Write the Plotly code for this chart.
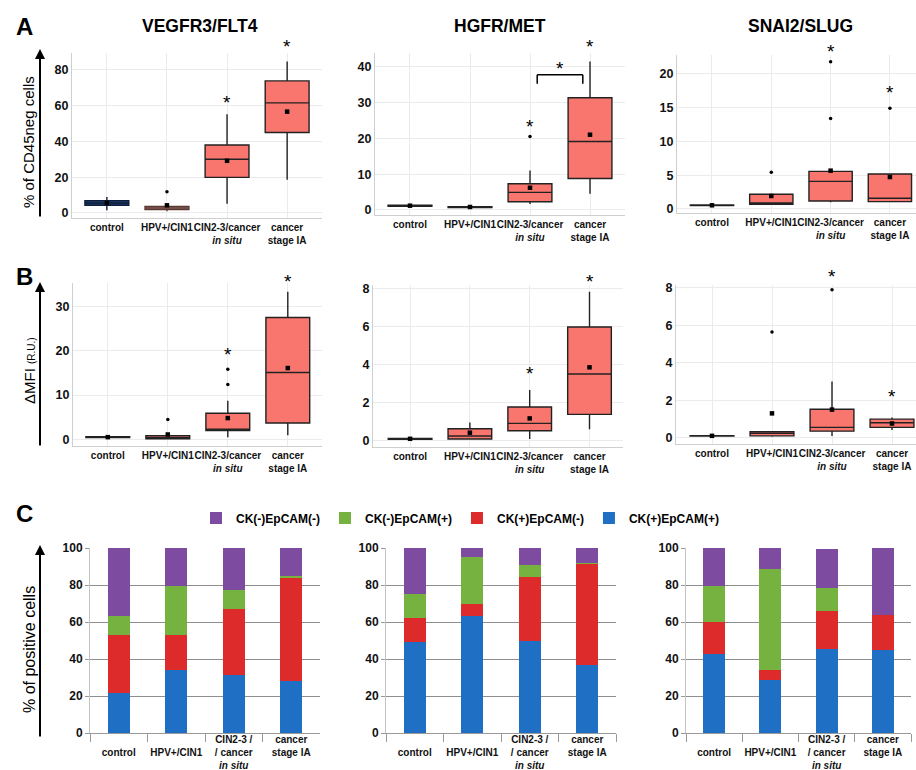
import plotly.graph_objects as go

W, H = 916, 770

# ---------------- categories / labels ----------------
cats_ab = ["control", "HPV+/CIN1", "CIN2-3/cancer<br><i>in situ</i>", "cancer<br>stage IA"]
cats_c = ["<br>control", "<br>HPV+/CIN1", "CIN2-3 /<br>/ cancer<br><i>in situ</i>", "cancer<br>stage IA"]
titles = ["VEGFR3/FLT4", "HGFR/MET", "SNAI2/SLUG"]
legend_names = ["CK(+)EpCAM(+)", "CK(+)EpCAM(-)", "CK(-)EpCAM(+)", "CK(-)EpCAM(-)"]

# ---------------- A: % of CD45neg cells ----------------
# VEGFR3/FLT4
a1_low = [1.5, 1.0, 5.2, 18.6]
a1_q1 = [4.3, 1.9, 19.9, 45.0]
a1_med = [5.6, 2.8, 30.1, 61.6]
a1_q3 = [6.9, 3.7, 38.0, 73.9]
a1_up = [8.9, 4.0, 55.3, 84.7]
a1_mean = [5.6, 4.3, 29.2, 56.7]
a1_out_cat = [1]
a1_out_val = [11.9]
a1_star_cat = [2, 3]
a1_star_val = [63.6, 94.9]

# HGFR/MET
a2_low = [1.0, 0.65, 1.7, 4.5]
a2_q1 = [1.05, 0.7, 2.3, 8.8]
a2_med = [1.2, 0.84, 4.9, 19.1]
a2_q3 = [1.35, 0.95, 7.3, 31.3]
a2_up = [1.4, 1.0, 11.0, 41.4]
a2_mean = [1.2, 0.84, 6.2, 21.0]
a2_out_cat = [2]
a2_out_val = [20.5]
a2_star_cat = [2, 3]
a2_star_val = [24.0, 46.5]
a2_bracket_cat = [2.12, 2.88]
a2_bracket_val = [35.2, 37.7]
a2_bracket_star = 40.2

# SNAI2/SLUG
a3_low = [0.45, 0.6, 1.0, 1.0]
a3_q1 = [0.5, 0.69, 1.18, 1.08]
a3_med = [0.54, 0.89, 4.09, 1.58]
a3_q3 = [0.6, 2.17, 5.57, 5.18]
a3_up = [0.65, 2.2, 5.6, 5.2]
a3_mean = [0.54, 1.92, 5.67, 4.73]
a3_out_cat = [1, 2, 2, 3]
a3_out_val = [5.42, 13.4, 21.8, 14.9]
a3_star_cat = [2, 3]
a3_star_val = [23.8, 17.65]

# ---------------- B: delta MFI (R.U.) ----------------
b1_low = [0.3, 0.05, 0.5, 0.9]
b1_q1 = [0.4, 0.1, 2.0, 3.7]
b1_med = [0.5, 0.4, 2.3, 15.1]
b1_q3 = [0.6, 0.8, 5.9, 27.5]
b1_up = [0.7, 1.0, 8.7, 33.3]
b1_mean = [0.5, 1.1, 4.8, 16.1]
b1_out_cat = [1, 2, 2]
b1_out_val = [4.5, 12.4, 15.8]
b1_star_cat = [2, 3]
b1_star_val = [19.8, 36.3]

b2_low = [0.06, 0.05, 0.09, 0.6]
b2_q1 = [0.08, 0.09, 0.52, 1.38]
b2_med = [0.1, 0.25, 0.91, 3.5]
b2_q3 = [0.12, 0.63, 1.77, 5.97]
b2_up = [0.14, 0.96, 2.66, 7.82]
b2_mean = [0.1, 0.42, 1.17, 3.85]
b2_out_cat = []
b2_out_val = []
b2_star_cat = [2, 3]
b2_star_val = [3.67, 8.52]

b3_low = [0.08, 0.05, 0.09, 0.41]
b3_q1 = [0.09, 0.1, 0.35, 0.55]
b3_med = [0.1, 0.23, 0.55, 0.8]
b3_q3 = [0.11, 0.32, 1.52, 0.99]
b3_up = [0.12, 0.35, 3.0, 1.08]
b3_mean = [0.1, 1.3, 1.5, 0.76]
b3_out_cat = [1, 2]
b3_out_val = [5.64, 7.9]
b3_star_cat = [2, 3]
b3_star_val = [8.74, 2.36]

# ---------------- C: % of positive cells (stacked) ----------------
c1_pp = [21.6, 34.2, 31.2, 27.9]
c1_pm = [31.6, 18.8, 36.0, 55.9]
c1_mp = [9.8, 26.3, 10.3, 1.2]
c1_mm = [37.0, 20.7, 22.5, 15.0]

c2_pp = [49.0, 63.0, 50.0, 36.6]
c2_pm = [13.0, 7.0, 34.1, 54.9]
c2_mp = [13.3, 25.0, 6.9, 0.3]
c2_mm = [24.7, 5.0, 9.0, 8.2]

c3_pp = [42.9, 28.5, 45.6, 44.7]
c3_pm = [17.1, 5.4, 20.2, 19.1]
c3_mp = [19.3, 54.9, 12.6, 0.2]
c3_mm = [20.7, 11.2, 21.1, 36.0]

# ---------------- styling / geometry ----------------
FN = "Liberation Sans, Arial, sans-serif"
FR = "Liberation Sans, Arial, sans-serif"
BOX_FILL = "#F8766D"
BOX_LINE = "#222222"
box_fill_over = {(0, 0): ("#1E3C6E", "#0E1E3A"), (0, 1): ("#C48A82", "#5B3A35")}
bar_colors = ["#1F6FC5", "#DD2B2B", "#76B23F", "#7D4CA0"]
STAR_SHIFT = -3


def dx(a, b):
    return [a / W, b / W]


def dy(top, bottom):
    return [1 - bottom / H, 1 - top / H]


def ax_name(kind, i):
    return kind if i == 1 else f"{kind}{i}"


box_panels = [
    dict(low=a1_low, q1=a1_q1, med=a1_med, q3=a1_q3, up=a1_up, mean=a1_mean,
         oc=a1_out_cat, ov=a1_out_val, sc=a1_star_cat, sv=a1_star_val),
    dict(low=a2_low, q1=a2_q1, med=a2_med, q3=a2_q3, up=a2_up, mean=a2_mean,
         oc=a2_out_cat, ov=a2_out_val, sc=a2_star_cat, sv=a2_star_val),
    dict(low=a3_low, q1=a3_q1, med=a3_med, q3=a3_q3, up=a3_up, mean=a3_mean,
         oc=a3_out_cat, ov=a3_out_val, sc=a3_star_cat, sv=a3_star_val),
    dict(low=b1_low, q1=b1_q1, med=b1_med, q3=b1_q3, up=b1_up, mean=b1_mean,
         oc=b1_out_cat, ov=b1_out_val, sc=b1_star_cat, sv=b1_star_val),
    dict(low=b2_low, q1=b2_q1, med=b2_med, q3=b2_q3, up=b2_up, mean=b2_mean,
         oc=b2_out_cat, ov=b2_out_val, sc=b2_star_cat, sv=b2_star_val),
    dict(low=b3_low, q1=b3_q1, med=b3_med, q3=b3_q3, up=b3_up, mean=b3_mean,
         oc=b3_out_cat, ov=b3_out_val, sc=b3_star_cat, sv=b3_star_val),
]

geom_ab = [
    dict(x=(72, 322), y=(53, 218), xr=(-0.58, 3.58), yr=(-2.8, 89.5), dt=20),
    dict(x=(375, 625), y=(53, 215), xr=(-0.583, 3.583), yr=(-1.4, 43.8), dt=10),
    dict(x=(677, 916), y=(55, 213), xr=(-0.59, 3.44), yr=(-0.6, 22.8), dt=5),
    dict(x=(73, 322), y=(283, 446), xr=(-0.58, 3.57), yr=(-1.5, 35.3), dt=10),
    dict(x=(373, 623), y=(285, 447), xr=(-0.62, 3.56), yr=(-0.33, 8.17), dt=2),
    dict(x=(676, 916), y=(285, 444), xr=(-0.6, 3.4), yr=(-0.335, 8.15), dt=2),
]
geom_c = [
    dict(x=(90, 320), y=(548, 733)),
    dict(x=(386, 616), y=(548, 733)),
    dict(x=(686, 911), y=(548, 733)),
]

fig = go.Figure()
annotations = []
shapes = []
layout_axes = {}


def star(xref, yref, yrange, c, v):
    # star placed via the axis' own domain reference so it stays visible above the range
    r0, r1 = yrange
    return dict(x=c, y=(v - r0) / (r1 - r0), xref=xref, yref=f"{yref} domain", text="*",
                showarrow=False, font=dict(family=FR, size=19, color="black"),
                yanchor="middle", yshift=STAR_SHIFT)


for p, (pan, g) in enumerate(zip(box_panels, geom_ab)):
    i = p + 1
    xr, yr = ax_name("x", i), ax_name("y", i)
    for k in range(4):
        fill, lc = box_fill_over.get((p, k), (BOX_FILL, BOX_LINE))
        fig.add_trace(go.Box(
            x=[cats_ab[k]], q1=[pan["q1"][k]], median=[pan["med"][k]], q3=[pan["q3"][k]],
            lowerfence=[pan["low"][k]], upperfence=[pan["up"][k]],
            fillcolor=fill, line=dict(color=lc, width=1.4), whiskerwidth=0,
            width=0.73, boxpoints=False, xaxis=xr, yaxis=yr,
            showlegend=False, hoverinfo="skip"))
    fig.add_trace(go.Scatter(
        x=cats_ab, y=pan["mean"], mode="markers",
        marker=dict(symbol="square", size=4.5, color="black"),
        xaxis=xr, yaxis=yr, showlegend=False, hoverinfo="skip"))
    if pan["oc"]:
        fig.add_trace(go.Scatter(
            x=[cats_ab[c] for c in pan["oc"]], y=pan["ov"], mode="markers",
            marker=dict(symbol="circle", size=3.5, color="black"),
            xaxis=xr, yaxis=yr, showlegend=False, hoverinfo="skip"))
    for c, v in zip(pan["sc"], pan["sv"]):
        annotations.append(star(xr, yr, g["yr"], c, v))
    layout_axes[ax_name("xaxis", i)] = dict(
        domain=dx(*g["x"]), range=list(g["xr"]), anchor=yr, type="category",
        categoryorder="array", categoryarray=cats_ab, tickangle=0, automargin=False,
        showgrid=True, gridcolor="#EBEBEB", gridwidth=1,
        showline=True, linecolor="#CFCFCF", linewidth=1, ticks="",
        tickfont=dict(family=FN, size=10, weight="bold", color="#111"))
    layout_axes[ax_name("yaxis", i)] = dict(
        domain=dy(*g["y"]), range=list(g["yr"]), anchor=xr, dtick=g["dt"], tick0=0,
        automargin=False,
        showgrid=True, gridcolor="#EBEBEB", gridwidth=1, zeroline=False,
        showline=True, linecolor="#CFCFCF", linewidth=1, ticks="",
        tickfont=dict(family=FN, size=12.5, weight="bold", color="#111"))

# bracket in HGFR/MET panel
bx0, bx1 = a2_bracket_cat
by0, by1 = a2_bracket_val
for (xa, ya, xb, yb) in [(bx0, by0, bx0, by1), (bx0, by1, bx1, by1), (bx1, by1, bx1, by0)]:
    shapes.append(dict(type="line", xref="x2", yref="y2", x0=xa, y0=ya, x1=xb, y1=yb,
                       line=dict(color="black", width=1.5)))
annotations.append(star("x2", "y2", geom_ab[1]["yr"], (bx0 + bx1) / 2, a2_bracket_star))

# stacked bars
c_panels = [(c1_pp, c1_pm, c1_mp, c1_mm), (c2_pp, c2_pm, c2_mp, c2_mm), (c3_pp, c3_pm, c3_mp, c3_mm)]
for j, (series, g) in enumerate(zip(c_panels, geom_c)):
    i = 7 + j
    xr, yr = ax_name("x", i), ax_name("y", i)
    for vals, name, col in zip(series, legend_names, bar_colors):
        fig.add_trace(go.Bar(
            x=cats_c, y=vals, name=name, marker=dict(color=col, line=dict(width=0)),
            width=0.39, xaxis=xr, yaxis=yr, showlegend=(j == 0), hoverinfo="skip"))
    layout_axes[ax_name("xaxis", i)] = dict(
        domain=dx(*g["x"]), range=[-0.5, 3.5], anchor=yr, type="category",
        categoryorder="array", categoryarray=cats_c, tickangle=0, automargin=False,
        tickson="boundaries", ticks="outside", ticklen=8, tickcolor="#9A9A9A",
        ticklabelstandoff=-3,
        showgrid=False, showline=True, linecolor="#9A9A9A", linewidth=1,
        tickfont=dict(family=FN, size=10, weight="bold", color="#111"))
    layout_axes[ax_name("yaxis", i)] = dict(
        domain=dy(*g["y"]), range=[0, 100], anchor=xr, dtick=20, tick0=0,
        automargin=False,
        showgrid=True, gridcolor="#8E8E8E", gridwidth=1, zeroline=False,
        showline=True, linecolor="#C4C4C4", ticks="outside", ticklen=4, tickcolor="#9A9A9A",
        tickfont=dict(family=FN, size=12, weight="bold", color="#111"))

# titles
for t, cx in zip(titles, [200, 500, 800]):
    annotations.append(dict(x=cx / W, y=1 - 26 / H, xref="paper", yref="paper", text=t,
                            showarrow=False, xanchor="center", yanchor="middle",
                            font=dict(family=FN, size=17.5, weight="bold", color="black")))
# panel letters
for t, cy in zip(["A", "B", "C"], [26, 276, 513]):
    annotations.append(dict(x=24 / W, y=1 - cy / H, xref="paper", yref="paper", text=t,
                            showarrow=False, xanchor="center", yanchor="middle",
                            font=dict(family=FR, size=24, weight="bold", color="black")))
# y titles
for t, cy in zip(["% of CD45neg cells", "ΔMFI <span style='font-size:10px'>(R.U.)</span>",
                  "% of positive cells"], [142, 370, 650]):
    annotations.append(dict(x=29 / W, y=1 - cy / H, xref="paper", yref="paper", text=t,
                            textangle=-90, showarrow=False, xanchor="center", yanchor="middle",
                            font=dict(family=FR, size=16 if "positive" in t else 15, color="black")))
# axis arrows
for top, bot in [(49, 218), (282, 447), (545, 738)]:
    annotations.append(dict(x=40 / W, y=1 - top / H, xref="paper", yref="paper", text="",
                            showarrow=True, ax=0, ay=bot - top, arrowhead=2, arrowsize=1,
                            arrowwidth=2, arrowcolor="black", standoff=0))

fig.update_layout(
    width=W, height=H, margin=dict(l=0, r=0, t=0, b=0, autoexpand=False),
    paper_bgcolor="white", plot_bgcolor="white",
    barmode="stack", showlegend=True,
    legend=dict(orientation="h", x=196 / W, y=1 - 518 / H, xanchor="left", yanchor="middle",
                traceorder="reversed",
                font=dict(family=FN, size=12, weight="bold", color="black"),
                bgcolor="rgba(0,0,0,0)"),
    annotations=annotations, shapes=shapes, **layout_axes)

fig.write_html("out.html", config={"displayModeBar": False},
               post_script="document.body.style.margin='0px';")
